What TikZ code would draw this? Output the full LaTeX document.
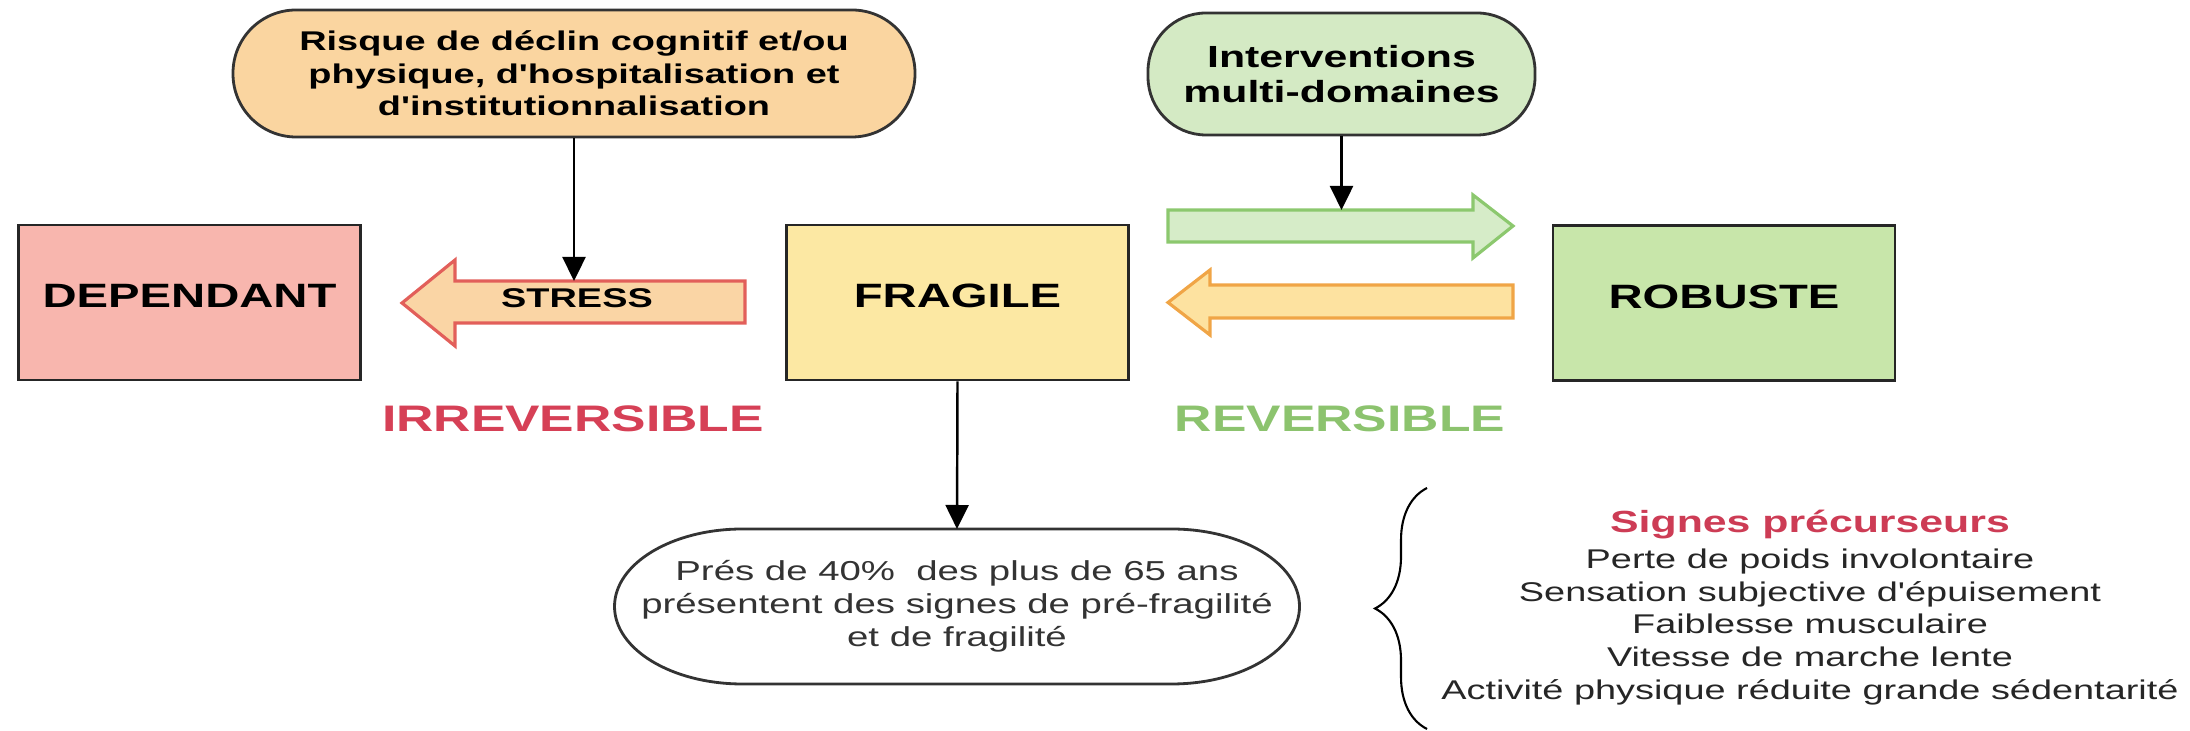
\documentclass[tikz,border=0pt]{standalone}
\usepackage{fontspec}
\setmainfont{Liberation Sans}[FakeStretch=1.4, Ligatures=TeXOff]
\usetikzlibrary{arrows.meta,decorations.pathreplacing}
\definecolor{dependantfill}{RGB}{248,182,174}
\definecolor{fragilefill}{RGB}{252,232,163}
\definecolor{robustefill}{RGB}{200,230,170}
\definecolor{risquefill}{RGB}{250,213,160}
\definecolor{intervfill}{RGB}{212,234,196}
\definecolor{stressfill}{RGB}{250,213,165}
\definecolor{stressline}{RGB}{226,95,90}
\definecolor{vertfill}{RGB}{214,236,200}
\definecolor{vertline}{RGB}{140,200,110}
\definecolor{jaunefill}{RGB}{253,226,160}
\definecolor{jauneline}{RGB}{240,165,70}
\definecolor{irrevcol}{RGB}{214,64,86}
\definecolor{revcol}{RGB}{140,195,110}
\definecolor{signescol}{RGB}{205,60,85}

\begin{document}
\begin{tikzpicture}[x=0.1mm,y=-0.1mm,
  etat/.style={draw=black!85, line width=0.8pt, minimum width=34.2mm, minimum height=15.5mm,
    text depth=1.3mm, font=\fontsize{9.6}{11}\selectfont\bfseries},
  pill/.style={draw=black!80, line width=0.8pt, align=center, inner sep=0pt},
  link/.style={-{Triangle[length=2.4mm,width=2.3mm]}, line width=0.7pt},
  bloc/.style={line width=0.9pt, line join=miter}]
  \useasboundingbox (0,0) rectangle (2190,731);

  % the three states
  \node[etat, fill=dependantfill] (dependant) at (189.5,302.5) {DEPENDANT};
  \node[etat, fill=fragilefill] (fragile) at (957.5,302.5) {FRAGILE};
  \node[etat, fill=robustefill] (robuste) at (1724,303) {ROBUSTE};

  % top bubbles
  \node[pill, fill=risquefill, minimum width=68.2mm, minimum height=12.7mm, rounded corners=6.3mm,
    font=\fontsize{7.7}{9.25}\selectfont\bfseries] (risque) at (574,73.5)
    {Risque de déclin cognitif et/ou\\physique, d'hospitalisation et\\d'institutionnalisation};
  \node[pill, fill=intervfill, minimum width=38.7mm, minimum height=12.2mm, rounded corners=5.8mm,
    font=\fontsize{8.7}{10}\selectfont\bfseries] (interv) at (1341.5,74)
    {Interventions\\multi-domaines};

  % block arrows
  \draw[bloc, draw=stressline, fill=stressfill]
    (745,281) -- (455,281) -- (455,260) -- (402,303) -- (455,346) -- (455,323) -- (745,323) -- cycle;
  \node[anchor=base, font=\fontsize{7.7}{9}\selectfont\bfseries] (stress) at (577,308) {STRESS};
  \draw[bloc, draw=vertline, fill=vertfill]
    (1168,210) -- (1473,210) -- (1473,195) -- (1513,226) -- (1473,258) -- (1473,242) -- (1168,242) -- cycle;
  \draw[bloc, draw=jauneline, fill=jaunefill]
    (1513,285) -- (1210,285) -- (1210,270) -- (1168,302.5) -- (1210,335) -- (1210,318) -- (1513,318) -- cycle;
  \coordinate (stresstop) at (574,281);
  \coordinate (verttop) at (1341.5,210);

  \node[anchor=base, text=irrevcol, font=\fontsize{10.5}{12}\selectfont\bfseries] (irrev) at (573,432) {IRREVERSIBLE};
  \node[anchor=base, text=revcol, font=\fontsize{10.5}{12}\selectfont\bfseries] (rev) at (1340,432) {REVERSIBLE};

  % prevalence
  \node[align=center, outer sep=0pt, minimum width=68.5mm, minimum height=15.5mm, text=black!80,
    font=\fontsize{7.8}{9.4}\selectfont] (prevalence) at (957,606.5)
    {Prés de 40\%~ des plus de 65 ans\\présentent des signes de pré-fragilité\\et de fragilité};
  \draw[line width=0.8pt, draw=black!80]
    ([xshift=12.8mm]prevalence.north west) -- ([xshift=-12.8mm]prevalence.north east)
    arc[start angle=90, end angle=-90, x radius=12.8mm, y radius=7.75mm]
    -- ([xshift=12.8mm]prevalence.south west)
    arc[start angle=270, end angle=90, x radius=12.8mm, y radius=7.75mm] -- cycle;

  \draw[link] (risque) -- (stresstop);
  \draw[link] (interv) -- (verttop);
  \draw[link] (fragile.south) -- (prevalence.north);

  % signes precurseurs
  \draw[line width=0.6pt, decorate, decoration={brace, amplitude=5.2mm}] (1427,729) -- (1427,488);
  \node[anchor=base, text=signescol, font=\fontsize{8.7}{10}\selectfont\bfseries] (titre) at (1810,533) {Signes précurseurs};
  \node[align=center, text=black!85, font=\fontsize{7.7}{9.32}\selectfont] (signes) at (1810,627)
    {Perte de poids involontaire\\Sensation subjective d'épuisement\\Faiblesse musculaire\\
     Vitesse de marche lente\\Activité physique réduite grande sédentarité};
\end{tikzpicture}
\end{document}
